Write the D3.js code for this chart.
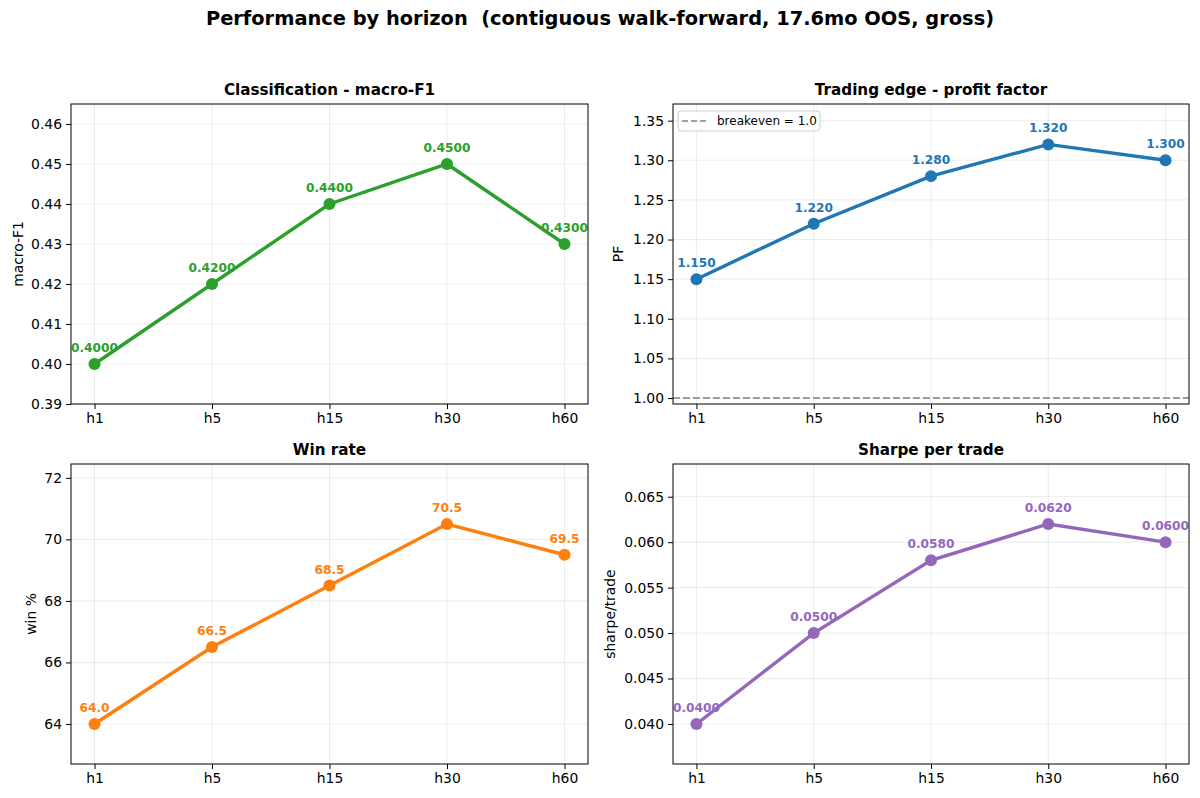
<!DOCTYPE html>
<html><head><meta charset="utf-8">
<script src="https://cdn.jsdelivr.net/npm/d3@7"></script>
<style>body{margin:0;background:#fff;} svg{display:block;font-family:"DejaVu Sans",sans-serif;}</style>
</head><body><svg id="c" width="1200" height="798"></svg>
<script>
const horizons = ["h1","h5","h15","h30","h60"];
const macroF1 = [0.40, 0.42, 0.44, 0.45, 0.43];
const profitFactor = [1.15, 1.22, 1.28, 1.32, 1.30];
const winRate = [64.0, 66.5, 68.5, 70.5, 69.5];
const sharpe = [0.040, 0.050, 0.058, 0.062, 0.060];
const f1Ticks = [0.39,0.40,0.41,0.42,0.43,0.44,0.45,0.46];
const pfTicks = [1.00,1.05,1.10,1.15,1.20,1.25,1.30,1.35];
const winTicks = [64,66,68,70,72];
const sharpeTicks = [0.040,0.045,0.050,0.055,0.060,0.065];
const breakeven = 1.0;

const svg = d3.select("#c");
svg.append("text").attr("x",600).attr("y",25).attr("text-anchor","middle")
  .style("white-space","pre").attr("xml:space","preserve")
  .attr("font-size","19.4px").attr("font-weight","bold")
  .text("Performance by horizon  (contiguous walk-forward, 17.6mo OOS, gross)");

function lim(v){const mn=d3.min(v),mx=d3.max(v),r=mx-mn;return [mn-0.2*r,mx+0.3*r];}

const panels = [
 {x0:71,x1:588,y0:104,y1:404,vals:macroF1,ticks:f1Ticks,tf:d3.format(".2f"),lf:d3.format(".4f"),color:"#2ca02c",
  title:"Classification - macro-F1",ylabel:"macro-F1",ylx:23,dom:lim(macroF1)},
 {x0:673,x1:1189,y0:104,y1:404,vals:profitFactor,ticks:pfTicks,tf:d3.format(".2f"),lf:d3.format(".3f"),color:"#1f77b4",
  title:"Trading edge - profit factor",ylabel:"PF",ylx:623,dom:[0.9925,lim(profitFactor)[1]],be:true},
 {x0:71,x1:588,y0:464,y1:764,vals:winRate,ticks:winTicks,tf:d3.format("d"),lf:d3.format(".1f"),color:"#ff7f0e",
  title:"Win rate",ylabel:"win %",ylx:36,dom:lim(winRate)},
 {x0:673,x1:1189,y0:464,y1:764,vals:sharpe,ticks:sharpeTicks,tf:d3.format(".3f"),lf:d3.format(".4f"),color:"#9467bd",
  title:"Sharpe per trade",ylabel:"sharpe/trade",ylx:615,dom:lim(sharpe)}
];

panels.forEach(p=>{
  const x = d3.scaleLinear().domain([-0.2,4.2]).range([p.x0,p.x1]);
  const y = d3.scaleLinear().domain(p.dom).range([p.y1,p.y0]);
  const g = svg.append("g");
  g.selectAll(".gx").data(horizons).enter().append("line")
    .attr("x1",(d,i)=>x(i)).attr("x2",(d,i)=>x(i)).attr("y1",p.y0).attr("y2",p.y1)
    .attr("stroke","#b0b0b0").attr("stroke-opacity",0.3).attr("stroke-width",0.8);
  g.selectAll(".gy").data(p.ticks).enter().append("line")
    .attr("x1",p.x0).attr("x2",p.x1).attr("y1",d=>y(d)).attr("y2",d=>y(d))
    .attr("stroke","#b0b0b0").attr("stroke-opacity",0.3).attr("stroke-width",0.8);
  const xa = d3.axisBottom(x).tickValues(d3.range(horizons.length)).tickFormat(i=>horizons[i]).tickSize(5).tickPadding(4);
  const ya = d3.axisLeft(y).tickValues(p.ticks).tickFormat(p.tf).tickSize(5).tickPadding(4);
  const gx = g.append("g").attr("transform",`translate(0,${p.y1})`).call(xa);
  const gy = g.append("g").attr("transform",`translate(${p.x0},0)`).call(ya);
  [gx,gy].forEach(a=>{
    a.select(".domain").remove();
    a.selectAll("text").attr("font-size","13.9px").attr("fill","#000").attr("font-family","DejaVu Sans");
    a.selectAll("line").attr("stroke","#000").attr("stroke-width",1);
  });
  if(p.be){
    g.append("line").attr("x1",p.x0).attr("x2",p.x1).attr("y1",y(breakeven)).attr("y2",y(breakeven))
      .attr("stroke","#808080").attr("stroke-width",1.5).attr("stroke-dasharray","7,3");
  }
  const line = d3.line().x((d,i)=>x(i)).y(d=>y(d));
  g.append("path").datum(p.vals).attr("d",line).attr("fill","none").attr("stroke",p.color).attr("stroke-width",3.4);
  g.selectAll(".pt").data(p.vals).enter().append("circle")
    .attr("cx",(d,i)=>x(i)).attr("cy",d=>y(d)).attr("r",6).attr("fill",p.color);
  g.selectAll(".lb").data(p.vals).enter().append("text")
    .attr("x",(d,i)=>x(i)).attr("y",d=>y(d)-12).attr("text-anchor","middle")
    .attr("font-size","12.2px").attr("font-weight","bold").attr("fill",p.color).text(d=>p.lf(d));
  g.append("rect").attr("x",p.x0).attr("y",p.y0).attr("width",p.x1-p.x0).attr("height",p.y1-p.y0)
    .attr("fill","none").attr("stroke","#000").attr("stroke-width",1);
  g.append("text").attr("x",(p.x0+p.x1)/2).attr("y",p.y0-9).attr("text-anchor","middle")
    .attr("font-size","15.2px").attr("font-weight","bold").text(p.title);
  g.append("text").attr("transform",`translate(${p.ylx},${(p.y0+p.y1)/2}) rotate(-90)`)
    .attr("text-anchor","middle").attr("font-size","13.9px").text(p.ylabel);
  if(p.be){
    const lg = g.append("g").attr("transform",`translate(${p.x0+5},${p.y0+7})`);
    lg.append("rect").attr("width",142).attr("height",20).attr("rx",3).attr("fill","#fff").attr("fill-opacity",0.8)
      .attr("stroke","#cccccc").attr("stroke-width",1);
    lg.append("line").attr("x1",4).attr("x2",30).attr("y1",10).attr("y2",10)
      .attr("stroke","#808080").attr("stroke-width",1.5).attr("stroke-dasharray","6,3");
    lg.append("text").attr("x",39).attr("y",14.3).attr("font-size","12px").text("breakeven = 1.0");
  }
});
</script></body></html>
